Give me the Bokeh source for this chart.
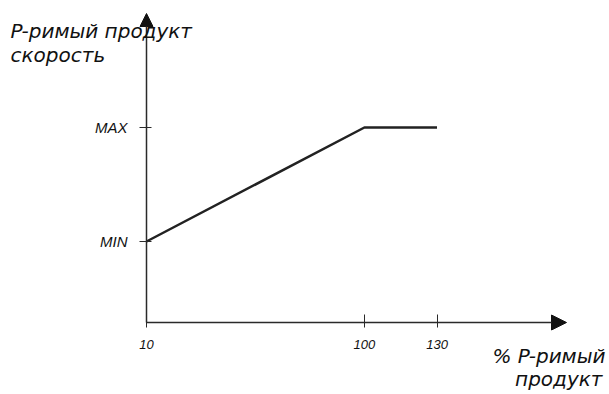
from bokeh.plotting import figure
from bokeh.models import Range1d, Label, Arrow, NormalHead, FixedTicker
from bokeh.embed import file_html
from bokeh.resources import INLINE

# ---- data ----
x_vals = [10, 100, 130]          # % P-римый продукт
y_vals = [1, 2, 2]               # speed level (1 = MIN, 2 = MAX)
x_ticks = [10, 100, 130]
y_ticks = [1, 2]
y_tick_labels = {1: "MIN", 2: "MAX"}

# ---- layout (canvas pixels) ----
W, H = 609, 394
KX = 2.421          # px per % unit
KY = 114.0          # px per level unit
OX, OY = 146, 322   # origin of the drawn axes (px)
X_ORIG = 10
Y_ORIG = 1 - (OY - 241) / KY
X0 = X_ORIG - OX / KX
X1 = X0 + W / KX
Y1 = 1 + 241 / KY
Y0 = Y1 - H / KY


def xd(px):
    return X0 + px / KX


def yd(py):
    return Y1 - py / KY


p = figure(width=W, height=H, output_backend="svg", toolbar_location=None,
           x_range=Range1d(X0, X1), y_range=Range1d(Y0, Y1),
           min_border=0)
p.outline_line_color = None
p.grid.visible = False
p.background_fill_color = "white"
p.border_fill_color = "white"

AX_COL = "#2a2a2a"

# x axis
xa = p.xaxis[0]
xa.fixed_location = Y_ORIG
xa.ticker = FixedTicker(ticks=x_ticks)
xa.axis_line_color = None
xa.major_tick_in = 8
xa.major_tick_out = 5
xa.major_tick_line_color = AX_COL
xa.major_tick_line_width = 1
xa.minor_tick_line_color = None
xa.major_label_standoff = 12
xa.major_label_text_font = "Liberation Sans"
xa.major_label_text_font_style = "italic"
xa.major_label_text_font_size = "13px"
xa.major_label_text_color = "#111111"

# y axis
ya = p.yaxis[0]
ya.fixed_location = X_ORIG
ya.ticker = FixedTicker(ticks=y_ticks)
ya.major_label_overrides = y_tick_labels
ya.axis_line_color = None
ya.major_tick_in = 5
ya.major_tick_out = 7
ya.major_tick_line_color = AX_COL
ya.major_tick_line_width = 1
ya.minor_tick_line_color = None
ya.major_label_standoff = 12
ya.major_label_text_font = "Liberation Sans"
ya.major_label_text_font_style = "italic"
ya.major_label_text_font_size = "15px"
ya.major_label_text_color = "#111111"

# axis lines with arrow heads
p.add_layout(Arrow(end=NormalHead(size=15, fill_color="#111111", line_color="#111111"),
                   x_start=X_ORIG, y_start=Y_ORIG, x_end=xd(566), y_end=Y_ORIG,
                   line_color=AX_COL, line_width=1.5))
p.add_layout(Arrow(end=NormalHead(size=13, fill_color="#111111", line_color="#111111"),
                   x_start=X_ORIG, y_start=Y_ORIG, x_end=X_ORIG, y_end=yd(13),
                   line_color=AX_COL, line_width=1.5))

# the characteristic line
p.line(x_vals, y_vals, line_color="#222222", line_width=2.5)

# axis titles
tf = dict(text_font="DejaVu Sans", text_font_style="italic",
          text_font_size="20px", text_color="#111111", text_baseline="alphabetic")
p.add_layout(Label(x=xd(10), y=yd(30), text="P-римый продукт", text_align="left", **tf))
p.add_layout(Label(x=xd(10), y=yd(54), text="скорость", text_align="left", **tf))
p.add_layout(Label(x=xd(605), y=yd(355), text="% P-римый", text_align="right", **tf))
p.add_layout(Label(x=xd(602), y=yd(378), text="продукт", text_align="right", **tf))

open("out.html", "w").write(file_html(p, INLINE))
